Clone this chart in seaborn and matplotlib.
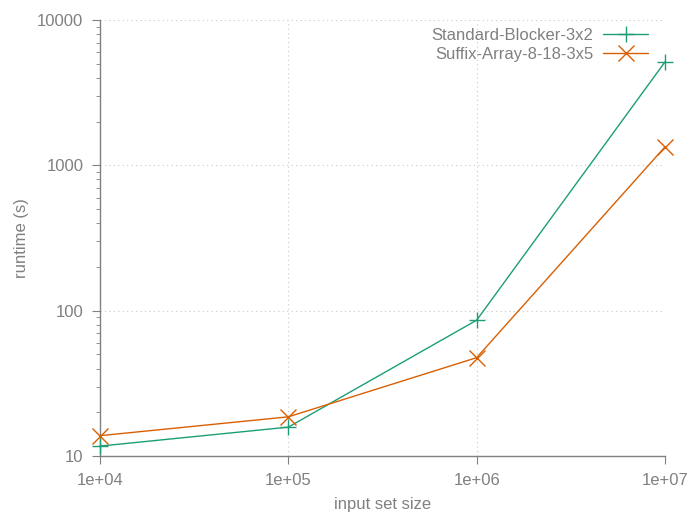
import pandas as pd
import matplotlib.pyplot as plt
import matplotlib.ticker as mticker
import seaborn as sns

# data
sizes = [1e4, 1e5, 1e6, 1e7]
standard_blocker = [11.7, 15.8, 86, 5150]
suffix_array = [13.8, 18.6, 47.5, 1340]
series_names = ['Standard-Blocker-3x2', 'Suffix-Array-8-18-3x5']
x_ticklabels = ['1e+04', '1e+05', '1e+06', '1e+07']
y_ticks = [10, 100, 1000, 10000]

df = pd.DataFrame({
    'size': sizes * 2,
    'runtime': standard_blocker + suffix_array,
    'series': [series_names[0]] * 4 + [series_names[1]] * 4,
})

sns.set_style('white')
plt.rcParams['font.family'] = ['Liberation Sans', 'DejaVu Sans']
gray = '#808080'
fs = 12

fig = plt.figure(figsize=(6.89, 5.15), dpi=100)
ax = fig.add_axes([100 / 689, 59 / 515, 565 / 689, 436 / 515])

palette = {series_names[0]: '#1b9e77', series_names[1]: '#d95f02'}
sns.lineplot(data=df, x='size', y='runtime', hue='series', style='series',
             markers={series_names[0]: '+', series_names[1]: 'x'},
             dashes=False, palette=palette, linewidth=1.0,
             markersize=11, markeredgewidth=1.0, ax=ax)

# seaborn paints marker edges white; give them the line colour
for line in ax.lines:
    line.set_markeredgecolor(line.get_color())
    line.set_clip_on(False)
    line.set_zorder(3)

ax.set_xscale('log')
ax.set_yscale('log')
ax.set_xlim(1e4, 1e7)
ax.set_ylim(10, 10000)
ax.set_xticks(sizes)
ax.set_xticklabels(x_ticklabels)
ax.xaxis.set_minor_locator(mticker.NullLocator())
ax.set_yticks(y_ticks)
ax.set_yticklabels([str(v) for v in y_ticks])
ax.yaxis.set_minor_locator(mticker.LogLocator(base=10, subs=range(2, 10)))
ax.yaxis.set_minor_formatter(mticker.NullFormatter())

ax.grid(True, which='major', linestyle=(0, (1, 3)), color='#c8c8c8', linewidth=0.8)
for side in ['top', 'right']:
    ax.spines[side].set_visible(False)
for side in ['left', 'bottom']:
    ax.spines[side].set_color(gray)
    ax.spines[side].set_linewidth(1.0)

ax.tick_params(axis='both', which='major', direction='out', length=6,
               color=gray, labelcolor=gray, labelsize=fs, pad=6)
ax.tick_params(axis='y', which='minor', direction='out', length=3,
               color=gray, left=True)
ax.tick_params(axis='x', which='major', bottom=True)
ax.tick_params(axis='y', which='major', left=True)

ax.set_xlabel('input set size', color=gray, fontsize=fs, labelpad=7)
ax.set_ylabel('runtime (s)', color=gray, fontsize=fs, labelpad=6)

leg = ax.legend(loc='upper right', bbox_to_anchor=(1.0, 1.0 + 9 / 436),
                frameon=False, markerfirst=False,
                fontsize=fs, handlelength=2.7, labelspacing=0.25,
                borderaxespad=0.6, handletextpad=0.6)
for t in leg.get_texts():
    t.set_color(gray)
for h in leg.legend_handles:
    h.set_markeredgecolor(h.get_color())

fig.savefig('out.png', dpi=100)
